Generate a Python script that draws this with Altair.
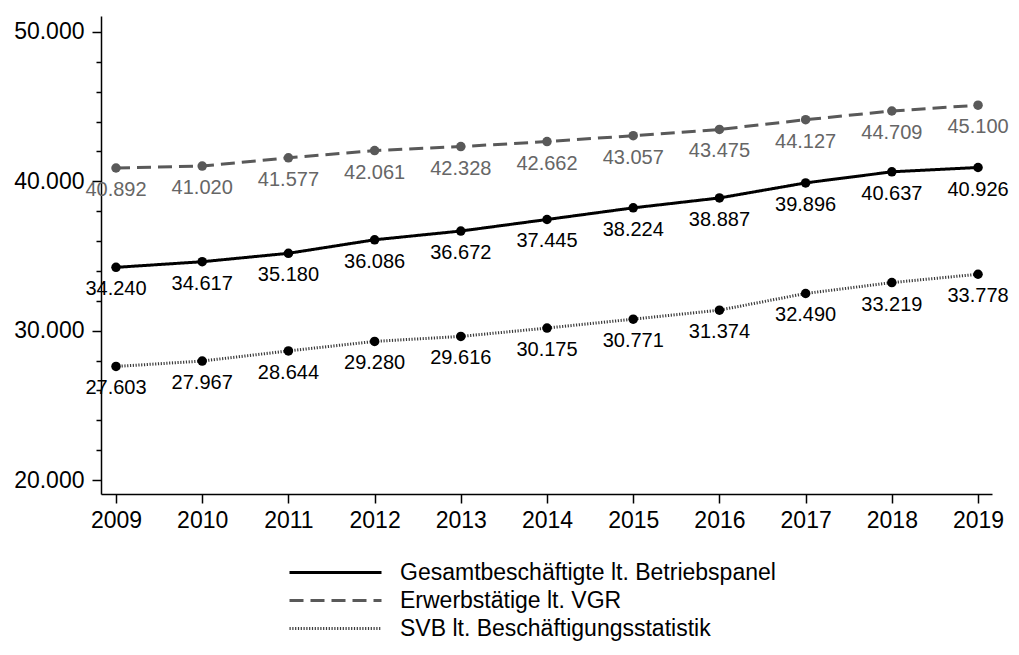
import altair as alt
import pandas as pd

years = list(range(2009, 2020))
gesamt = [34240, 34617, 35180, 36086, 36672, 37445, 38224, 38887, 39896, 40637, 40926]
vgr = [40892, 41020, 41577, 42061, 42328, 42662, 43057, 43475, 44127, 44709, 45100]
svb = [27603, 27967, 28644, 29280, 29616, 30175, 30771, 31374, 32490, 33219, 33778]
series_names = [
    "Gesamtbeschäftigte lt. Betriebspanel",
    "Erwerbstätige lt. VGR",
    "SVB lt. Beschäftigungsstatistik",
]
y_ticks = list(range(20000, 50001, 2000))

rows = []
for name, vals in zip(series_names, [gesamt, vgr, svb]):
    for yr, v in zip(years, vals):
        rows.append({"series": name, "year": yr, "value": v,
                     "label": f"{v:,}".replace(",", ".")})
df = pd.DataFrame(rows)

FONT = "Liberation Sans"
is_vgr = alt.datum.series == "Erwerbstätige lt. VGR"

x_enc = alt.X(
    "year:Q",
    scale=alt.Scale(domain=[2008.826, 2019.162], nice=False, zero=False),
    axis=alt.Axis(values=years, format="d", title=None, labelFontSize=23,
                  labelFont=FONT, labelColor="black", tickSize=9, tickWidth=1.5,
                  tickColor="black", domainColor="black", domainWidth=1.5,
                  labelPadding=6, grid=False, labelFlush=False),
)
y_enc = alt.Y(
    "value:Q",
    scale=alt.Scale(domain=[19063, 51071], nice=False, zero=False),
    axis=alt.Axis(values=y_ticks, title=None, labelFontSize=23, labelFont=FONT,
                  labelColor="black",
                  labelExpr="datum.value % 10000 === 0 ? replace(format(datum.value, ',.0f'), ',', '.') : ''",
                  tickSize={"condition": {"test": "datum.value % 10000 === 0", "value": 9}, "value": 5},
                  tickWidth=1.5, tickColor="black", domainColor="black",
                  domainWidth=1.5, labelPadding=8, grid=False),
)

base = alt.Chart(df).encode(x=x_enc, y=y_enc)

lines = base.mark_line().encode(
    color=alt.Color(
        "series:N",
        scale=alt.Scale(domain=series_names, range=["#000000", "#595959", "#3a3a3a"]),
        sort=series_names,
        legend=alt.Legend(
            title=None, orient="none", legendX=223, legendY=545,
            direction="vertical", symbolType="M-4.6,0H4.6", symbolSize=400,
            symbolStrokeWidth=3, labelFontSize=23, labelFont=FONT,
            labelColor="black", labelOffset=53, rowPadding=4, labelLimit=600,
        ),
    ),
    strokeDash=alt.StrokeDash(
        "series:N",
        scale=alt.Scale(domain=series_names, range=[[1, 0], [14, 7], [1.2, 1.6]]),
        sort=series_names,
        legend=alt.Legend(title=None),
    ),
    strokeWidth=alt.StrokeWidth(
        "series:N",
        scale=alt.Scale(domain=series_names, range=[3, 3, 2]),
        legend=None,
    ),
)

points = base.mark_circle(size=90, opacity=1).encode(
    color=alt.condition(is_vgr, alt.value("#595959"), alt.value("#000000"))
)

labels = base.mark_text(fontSize=20, font=FONT, baseline="middle", align="center", dy=22).encode(
    text="label:N",
    color=alt.condition(is_vgr, alt.value("#666666"), alt.value("#000000")),
)

chart = alt.layer(lines, points, labels).properties(
    width=891, height=478,
    autosize=alt.AutoSizeParams(type="none"),
    padding={"left": 93, "top": 8, "right": 19, "bottom": 150},
    background="white",
).configure_view(stroke=None)

chart.save("out.html", embed_options={"renderer": "svg", "actions": False})
